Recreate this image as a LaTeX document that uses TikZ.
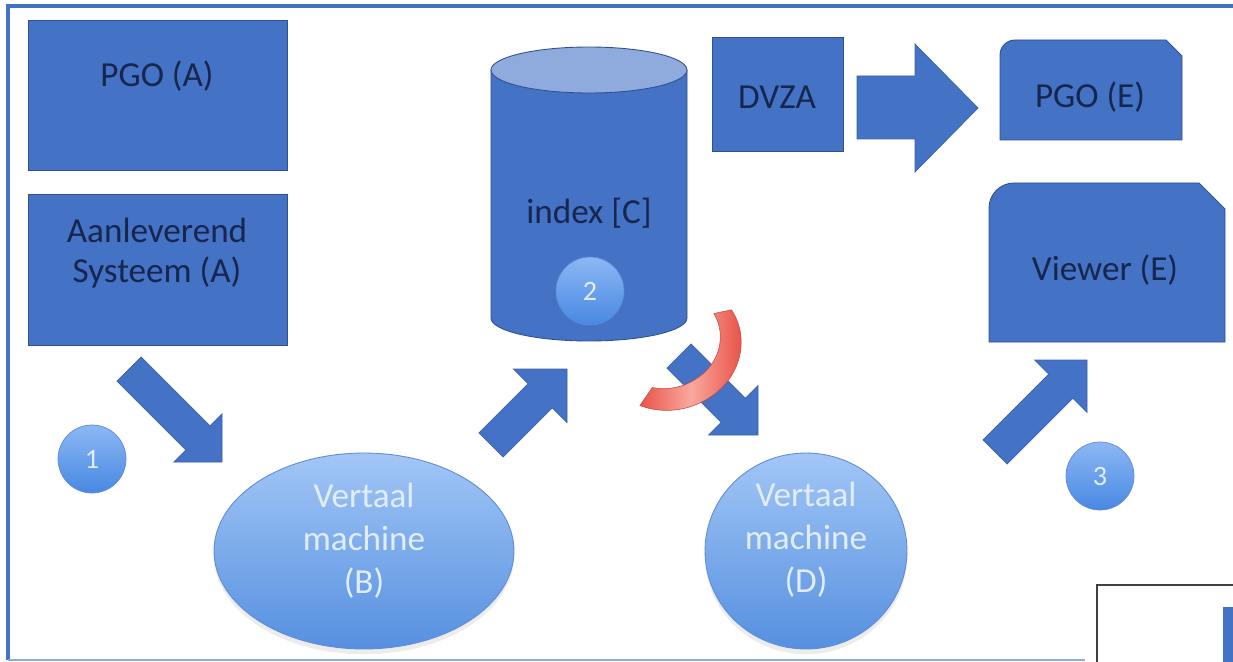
\documentclass[tikz,border=0pt]{standalone}
\usepackage{fontspec}
\setmainfont{Carlito}
\usetikzlibrary{calc,shapes.geometric,shadows}

\definecolor{boxblue}{RGB}{68,114,196}
\definecolor{boxedge}{RGB}{47,82,143}
\definecolor{arrowedge}{RGB}{58,98,170}
\definecolor{navytext}{RGB}{22,38,78}
\definecolor{lighttop}{RGB}{162,198,246}
\definecolor{lightbot}{RGB}{86,144,224}
\definecolor{ringedge}{RGB}{95,140,215}
\definecolor{paletext}{RGB}{226,237,252}
\definecolor{cyltop}{RGB}{143,170,220}
\definecolor{framedark}{RGB}{68,114,196}
\definecolor{framelight}{RGB}{143,170,220}
\definecolor{redA}{RGB}{232,84,74}
\definecolor{redB}{RGB}{250,168,158}
\definecolor{numtop}{RGB}{140,184,244}
\definecolor{numbot}{RGB}{72,136,226}

\newcommand\blockarrow[5]{%
  \pgfmathsetmacro\bas{#3*0.02}%
  \pgfmathsetmacro\baw{#4*0.02}%
  \pgfmathsetmacro\bah{#5*0.02}%
  \coordinate (#2-base) at ($(#2)!\bah cm!(#1)$);
  \path[arrowbody] ($(#1)!\bas cm!90:(#2)$) -- ($(#2-base)!\bas cm!90:(#2)$)
    -- ($(#2-base)!\baw cm!90:(#2)$) -- (#2) -- ($(#2-base)!\baw cm!-90:(#2)$)
    -- ($(#2-base)!\bas cm!-90:(#2)$) -- ($(#1)!\bas cm!-90:(#2)$) -- cycle;
}

\begin{document}
\begin{tikzpicture}[x=0.02cm,y=-0.02cm,
  boxstyle/.style={fill=boxblue, draw=boxedge, line width=0.5pt},
  arrowbody/.style={fill=boxblue, draw=arrowedge, line width=0.4pt},
  lbl/.style={text=navytext, font=\fontsize{20}{22.7}\selectfont, align=center, inner sep=0pt},
  elltext/.style={text=paletext, font=\fontsize{20}{24.4}\selectfont, align=center, inner sep=0pt},
  ellnode/.style={ellipse, draw=ringedge, line width=0.5pt, top color=lighttop, bottom color=lightbot, inner sep=0pt,
     drop shadow={shadow xshift=0pt, shadow yshift=-3pt, opacity=0.15, fill=gray}},
  numnode/.style={circle, minimum size=1.36cm, inner sep=0pt, draw=ringedge, line width=0.4pt,
     top color=numtop, bottom color=numbot, text=paletext, font=\fontsize{16}{18}\selectfont},
  rectnode/.style={rectangle, boxstyle, inner sep=0pt},
  redband/.style={draw=redA!85!black, line width=0.3pt, left color=redA, right color=redA, middle color=redB}
]
\useasboundingbox (0,0) rectangle (1233,662);
\clip (0,0) rectangle (1233,662);
\fill[white] (0,0) rectangle (1233,662);

% frame
\draw[framedark, line width=1.8pt] (8,660) -- (8,6) -- (1240,6);
\draw[framelight, line width=1.2pt] (8,660) -- (1085,660);

% left boxes
\node[rectnode, minimum width=5.18cm, minimum height=3.0cm] (pgoA) at (157.5,95) {};
\node[lbl] (pgoAt) at (157,76) {PGO (A)};
\node[rectnode, minimum width=5.18cm, minimum height=3.02cm] (aanl) at (157.5,269.5) {};
\node[lbl] (aanlt) at (157,253) {Aanleverend\\Systeem (A)};

% cylinder index
\draw[boxstyle] (491,70) -- (491,318) .. controls (491,330.7) and (534.9,341) .. (589,341)
  .. controls (643.1,341) and (687,330.7) .. (687,318) -- (687,70) -- cycle;
\node[ellipse, fill=cyltop, draw=boxedge, line width=0.5pt, minimum width=3.92cm, minimum height=0.92cm, inner sep=0pt] (Ctop) at (589,70) {};
\node[lbl] (C) at (589,213) {index [C]};

% DVZA and PGO (E)
\node[rectnode, minimum width=2.62cm, minimum height=2.28cm] (dvza) at (777.5,94) {};
\node[lbl] (dvzat) at (777,97) {DVZA};
\path[arrowbody] (857,76) -- (915,76) -- (915,44) -- (978,108) -- (915,172) -- (915,139) -- (857,139) -- cycle;
\draw[boxstyle] (1000,140) -- (1000,55) .. controls (1000,46.7) and (1006.7,40) .. (1015,40)
  -- (1166,40) -- (1182,56) -- (1182,140) -- cycle;
\node[lbl] (pgoE) at (1090,97) {PGO (E)};

% Viewer
\draw[boxstyle] (989,342) -- (989,208) .. controls (989,194.2) and (1000.2,183) .. (1014,183)
  -- (1199,183) -- (1225,209) -- (1225,342) -- cycle;
\node[lbl] (viewer) at (1105,270) {Viewer (E)};

% ellipses
\node[ellnode, minimum width=6cm, minimum height=3.92cm] (B) at (364,551) {};
\node[elltext] (Bt) at (364,541) {Vertaal\\machine\\(B)};
\node[ellnode, minimum width=4.04cm, minimum height=3.92cm] (D) at (806,551) {};
\node[elltext] (Dt) at (806,540) {Vertaal\\machine\\(D)};

% block arrows
\coordinate (a1t) at (129,369); \coordinate (a1p) at (222,462);
\coordinate (a2t) at (491,445); \coordinate (a2p) at (567,369);
\coordinate (a3t) at (679,356); \coordinate (a3p) at (758,435);
\coordinate (a4t) at (995,452); \coordinate (a4p) at (1087,360);
\blockarrow{a1t}{a1p}{17}{34}{34}
\blockarrow{a2t}{a2p}{17}{38}{38}
\blockarrow{a3t}{a3p}{17}{35}{35}
\blockarrow{a4t}{a4p}{17}{37}{37}

% red curved band (tapering towards its ends)
\path[redband]
  plot[domain=-12:104, samples=50]
    ({660+(88-15*(max(0,(45-\x)/57))^2-5*(max(0,(\x-45)/59))^2)*cos(\x)},
     {325+(88-15*(max(0,(45-\x)/57))^2-5*(max(0,(\x-45)/59))^2)*sin(\x)})
  -- plot[domain=97:-12, samples=50]
    ({660+(65-10*(max(0,(45-\x)/57))^2-2*(max(0,(\x-45)/52))^2)*cos(\x)},
     {325+(65-10*(max(0,(45-\x)/57))^2-2*(max(0,(\x-45)/52))^2)*sin(\x)})
  -- cycle;

% numbered circles
\node[numnode] (n1) at (92,459) {1};
\node[numnode] (n2) at (590,291) {2};
\node[numnode] (n3) at (1100,476) {3};

% bottom-right partial boxes
\draw[line width=1.3pt, draw=black!75] (1240,585) -- (1097,585) -- (1097,670);
\fill[boxblue] (1223,607) rectangle (1240,670);
\end{tikzpicture}
\end{document}
